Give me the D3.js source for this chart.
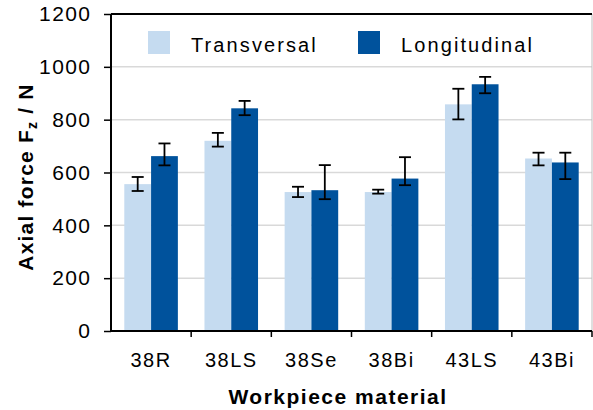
<!DOCTYPE html>
<html>
<head>
<meta charset="utf-8">
<script src="https://cdn.jsdelivr.net/npm/d3@7"></script>
<style>
  body { margin: 0; background: #fff; }
  svg text { font-family: "Liberation Sans", Arial, sans-serif; }
</style>
</head>
<body>
<div id="chart"></div>
<script>
// data
var categories = ["38R", "38LS", "38Se", "38Bi", "43LS", "43Bi"];
var seriesNames = ["Transversal", "Longitudinal"];
var transversal = [556, 720, 526, 526, 858, 653];
var transLow = [530, 698, 507, 520, 801, 627];
var transHigh = [583, 750, 546, 535, 917, 675];
var longitudinal = [662, 843, 533, 577, 934, 638];
var longLow = [627, 817, 499, 552, 900, 575];
var longHigh = [710, 871, 628, 658, 962, 675];
var yTicks = [0, 200, 400, 600, 800, 1000, 1200];

var colors = ["#c5dbf0", "#00529c"];
var W = 593, H = 410;
var plotLeft = 111, plotRight = 592, plotTop = 14, plotBottom = 331;

var svg = d3.select("#chart").append("svg")
    .attr("width", W)
    .attr("height", H)
    .style("display", "block");

var x0 = d3.scaleBand().domain(categories).range([plotLeft, plotRight]).padding(0);
var x1 = d3.scaleBand().domain(seriesNames)
    .range([13.3, x0.bandwidth() - 13.3]).padding(0);
var y = d3.scaleLinear().domain([0, 1200]).range([plotBottom, plotTop]);

// gridlines
svg.append("g").selectAll("line")
    .data(yTicks.filter(function(d) { return d > 0 && d < 1200; }))
    .enter().append("line")
    .attr("x1", plotLeft).attr("x2", plotRight)
    .attr("y1", function(d) { return y(d); })
    .attr("y2", function(d) { return y(d); })
    .attr("stroke", "#d9d9d9")
    .attr("stroke-width", 1.5);

// right border of plot area
svg.append("line")
    .attr("x1", plotRight).attr("x2", plotRight)
    .attr("y1", plotTop).attr("y2", plotBottom)
    .attr("stroke", "#bfbfbf").attr("stroke-width", 1);

var rows = categories.map(function(c, i) {
    return [
        { cat: c, s: seriesNames[0], v: transversal[i], lo: transLow[i], hi: transHigh[i] },
        { cat: c, s: seriesNames[1], v: longitudinal[i], lo: longLow[i], hi: longHigh[i] }
    ];
});

var grp = svg.append("g").selectAll("g")
    .data(rows)
    .enter().append("g")
    .attr("transform", function(d) { return "translate(" + x0(d[0].cat) + ",0)"; });

grp.selectAll("rect")
    .data(function(d) { return d; })
    .enter().append("rect")
    .attr("x", function(d) { return x1(d.s); })
    .attr("width", x1.bandwidth())
    .attr("y", function(d) { return y(d.v); })
    .attr("height", function(d) { return y(0) - y(d.v); })
    .attr("fill", function(d, i) { return colors[i]; });

// error bars
var eb = grp.selectAll(".err")
    .data(function(d) { return d; })
    .enter().append("g")
    .attr("class", "err")
    .attr("stroke", "#000")
    .attr("stroke-width", 1.8);
eb.append("line")
    .attr("x1", function(d) { return x1(d.s) + x1.bandwidth() / 2; })
    .attr("x2", function(d) { return x1(d.s) + x1.bandwidth() / 2; })
    .attr("y1", function(d) { return y(d.lo); })
    .attr("y2", function(d) { return y(d.hi); });
["lo", "hi"].forEach(function(k) {
    eb.append("line")
        .attr("x1", function(d) { return x1(d.s) + x1.bandwidth() / 2 - 6; })
        .attr("x2", function(d) { return x1(d.s) + x1.bandwidth() / 2 + 6; })
        .attr("y1", function(d) { return y(d[k]); })
        .attr("y2", function(d) { return y(d[k]); });
});

// top border
svg.append("line")
    .attr("x1", plotLeft).attr("x2", plotRight)
    .attr("y1", plotTop).attr("y2", plotTop)
    .attr("stroke", "#000").attr("stroke-width", 2);

// y axis
var yAxis = svg.append("g")
    .attr("transform", "translate(" + plotLeft + ",0)")
    .call(d3.axisLeft(y).tickValues(yTicks).tickFormat(d3.format("d"))
        .tickSize(7).tickPadding(14));
yAxis.select(".domain").attr("stroke-width", 2)
    .attr("d", "M0," + plotBottom + "V" + plotTop);
yAxis.selectAll(".tick line").attr("stroke-width", 1.5);
yAxis.selectAll("text")
    .attr("font-size", 21)
    .attr("fill", "#000")
    .attr("dx", 1.4)
    .style("letter-spacing", "1.4px");

// x axis: ticks at category boundaries
var xg = svg.append("g");
xg.append("line")
    .attr("x1", plotLeft).attr("x2", plotRight)
    .attr("y1", plotBottom).attr("y2", plotBottom)
    .attr("stroke", "#000").attr("stroke-width", 2);
xg.selectAll(".xt")
    .data(categories)
    .enter().append("line")
    .attr("x1", function(d) { return x0(d) + x0.step(); })
    .attr("x2", function(d) { return x0(d) + x0.step(); })
    .attr("y1", plotBottom).attr("y2", plotBottom + 6)
    .attr("stroke", "#000").attr("stroke-width", 1.5);
xg.selectAll("text")
    .data(categories)
    .enter().append("text")
    .attr("x", function(d) { return x0(d) + x0.bandwidth() / 2; })
    .attr("y", 367)
    .attr("text-anchor", "middle")
    .attr("font-size", 20)
    .style("letter-spacing", "1.5px")
    .text(function(d) { return d; });

// axis titles
svg.append("text")
    .attr("x", 338).attr("y", 404)
    .attr("text-anchor", "middle")
    .attr("font-size", 21)
    .attr("font-weight", "bold")
    .style("letter-spacing", "1.5px")
    .text("Workpiece material");

var yt = svg.append("text")
    .attr("transform", "translate(33,177) rotate(-90)")
    .attr("text-anchor", "middle")
    .attr("font-size", 21)
    .attr("font-weight", "bold")
    .style("letter-spacing", "1.2px");
yt.append("tspan").text("Axial force F");
yt.append("tspan").attr("font-size", 14).attr("dy", 4).text("z");
yt.append("tspan").attr("dy", -4).text(" / N");

// legend
var legX = [148, 358];
var leg = svg.append("g").selectAll("g")
    .data(seriesNames)
    .enter().append("g")
    .attr("transform", function(d, i) { return "translate(" + legX[i] + ",31)"; });
leg.append("rect")
    .attr("width", 22).attr("height", 23)
    .attr("fill", function(d, i) { return colors[i]; });
leg.append("text")
    .attr("x", 43).attr("y", 21)
    .attr("font-size", 20)
    .style("letter-spacing", "2.1px")
    .text(function(d) { return d; });
</script>
</body>
</html>
